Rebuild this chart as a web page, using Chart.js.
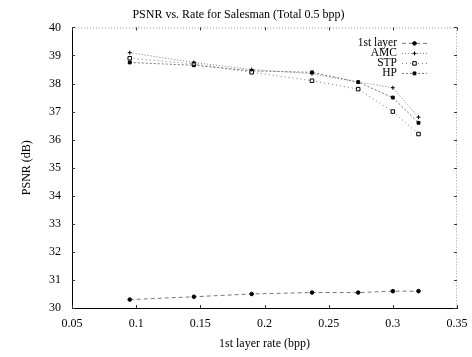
<!DOCTYPE html>
<html>
<head>
<meta charset="utf-8">
<script src="https://cdn.jsdelivr.net/npm/chart.js@4.4.1/dist/chart.umd.min.js"></script>
<style>
  html, body { margin: 0; padding: 0; background: #fff; }
  #wrap { width: 472px; height: 357px; }
</style>
</head>
<body>
<div id="wrap"><canvas id="psnr" width="472" height="357"></canvas></div>
<script>
// data
const rates   = [0.095, 0.145, 0.19, 0.237, 0.273, 0.3, 0.32];
const layer1  = [30.3, 30.4, 30.5, 30.55, 30.55, 30.6, 30.6];
const amc     = [39.1, 38.75, 38.5, 38.35, 38.05, 37.85, 36.8];
const stp     = [38.9, 38.7, 38.4, 38.1, 37.8, 37.0, 36.2];
const hp      = [38.75, 38.65, 38.45, 38.4, 38.05, 37.5, 36.6];
const xTicks  = [0.05, 0.1, 0.15, 0.2, 0.25, 0.3, 0.35];
const xLabels = ["0.05", "0.1", "0.15", "0.2", "0.25", "0.3", "0.35"];

const FONT = "'Liberation Serif', 'DejaVu Serif', serif";
const pts = (ys) => rates.map((x, i) => ({ x: x, y: ys[i] }));

// legend drawn inside the plot, text right-aligned, sample on the right
const insideLegend = {
  id: "insideLegend",
  afterDatasetsDraw(chart) {
    const { ctx, chartArea } = chart;
    const sampleEnd = chartArea.right - 30;
    const sampleStart = sampleEnd - 25;
    ctx.save();
    ctx.font = "11.5px " + FONT;
    ctx.textAlign = "right";
    ctx.textBaseline = "middle";
    chart.data.datasets.forEach((ds, i) => {
      const y = chartArea.top + 16 + i * 10;
      ctx.fillStyle = "#000";
      ctx.fillText(ds.label, sampleStart - 5, y);
      ctx.strokeStyle = ds.borderColor;
      ctx.lineWidth = 1;
      ctx.setLineDash(ds.borderDash || []);
      ctx.beginPath();
      ctx.moveTo(sampleStart, y);
      ctx.lineTo(sampleEnd, y);
      ctx.stroke();
      ctx.setLineDash([]);
      ctx.fillStyle = ds.pointBackgroundColor;
      ctx.strokeStyle = ds.pointBorderColor;
      Chart.helpers.drawPoint(ctx, { pointStyle: ds.pointStyle, radius: ds.pointRadius, borderWidth: 1, rotation: 0 }, (sampleStart + sampleEnd) / 2, y);
    });
    ctx.restore();
  }
};

// dotted top/right frame + inward tick marks
const frame = {
  id: "frame",
  beforeDatasetsDraw(chart) {
    const { ctx, chartArea: a, scales } = chart;
    ctx.save();
    ctx.strokeStyle = "#999";
    ctx.lineWidth = 1;
    ctx.setLineDash([1, 2]);
    ctx.beginPath();
    ctx.moveTo(a.left, a.top + 0.5);
    ctx.lineTo(a.right - 0.5, a.top + 0.5);
    ctx.lineTo(a.right - 0.5, a.bottom);
    ctx.stroke();
    ctx.setLineDash([]);
    ctx.strokeStyle = "#333";
    ctx.beginPath();
    scales.x.ticks.forEach(t => {
      const px = Math.round(scales.x.getPixelForValue(t.value)) + 0.5;
      ctx.moveTo(px, a.bottom); ctx.lineTo(px, a.bottom - 3);
      ctx.moveTo(px, a.top); ctx.lineTo(px, a.top + 3);
    });
    scales.y.ticks.forEach(t => {
      const py = Math.round(scales.y.getPixelForValue(t.value)) + 0.5;
      ctx.moveTo(a.left, py); ctx.lineTo(a.left + 3, py);
      ctx.moveTo(a.right, py); ctx.lineTo(a.right - 3, py);
    });
    ctx.stroke();
    ctx.restore();
  }
};

function series(label, ys, style, radius, fill, dash) {
  return {
    label: label,
    data: pts(ys),
    borderColor: "#777",
    borderWidth: 1,
    borderDash: dash,
    pointStyle: style,
    pointRadius: radius,
    pointBorderColor: "#000",
    pointBackgroundColor: fill,
    pointBorderWidth: 1,
    showLine: true,
    fill: false
  };
}

new Chart(document.getElementById("psnr"), {
  type: "scatter",
  data: {
    datasets: [
      series("1st layer", layer1, "circle", 1.8, "#000", [4, 3]),
      series("AMC", amc, "cross", 2, "#000", [1, 2]),
      series("STP", stp, "rect", 2.5, "#fff", [1, 3]),
      series("HP", hp, "rect", 2, "#000", [2, 2])
    ]
  },
  plugins: [frame, insideLegend],
  options: {
    responsive: false,
    animation: false,
    layout: { padding: { left: 20, right: 15, top: 0, bottom: 0 } },
    plugins: {
      legend: { display: false },
      tooltip: { enabled: false },
      title: {
        display: true,
        text: "PSNR vs. Rate for Salesman (Total 0.5 bpp)",
        color: "#000",
        font: { family: FONT, size: 12, weight: "normal" },
        padding: { top: 8, bottom: 5 }
      }
    },
    scales: {
      x: {
        type: "linear",
        min: 0.05, max: 0.35,
        afterBuildTicks: (s) => { s.ticks = xTicks.map(v => ({ value: v })); },
        afterFit: (s) => { s.height = 49; },
        ticks: {
          color: "#000",
          font: { family: FONT, size: 12 },
          padding: 1,
          callback: (v) => xLabels[xTicks.findIndex(t => Math.abs(t - v) < 1e-9)]
        },
        grid: { display: false },
        border: { color: "#000", width: 1 },
        title: {
          display: true,
          text: "1st layer rate (bpp)",
          color: "#000",
          font: { family: FONT, size: 12 },
          padding: { top: 4, bottom: 6 }
        }
      },
      y: {
        min: 30, max: 40,
        afterFit: (s) => { s.width = 52; },
        ticks: {
          stepSize: 1,
          color: "#000",
          font: { family: FONT, size: 12 },
          padding: 3
        },
        grid: { display: false },
        border: { color: "#000", width: 1 },
        title: {
          display: true,
          text: "PSNR (dB)",
          color: "#000",
          font: { family: FONT, size: 12 },
          padding: { top: 0, bottom: 4 }
        }
      }
    }
  }
});
</script>
</body>
</html>
